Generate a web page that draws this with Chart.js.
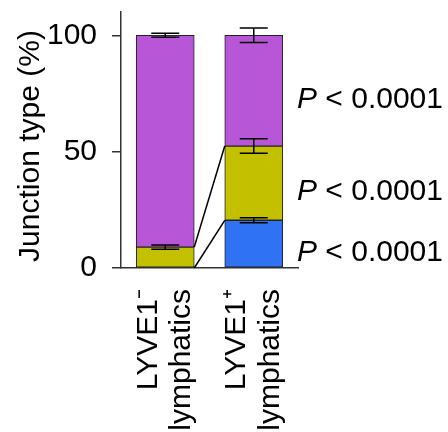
<!DOCTYPE html>
<html>
<head>
<meta charset="utf-8">
<script src="https://cdn.jsdelivr.net/npm/chart.js@4.4.0/dist/chart.umd.min.js"></script>
<style>
  html, body { margin: 0; padding: 0; background: #fff; }
  #wrap { width: 448px; height: 432px; }
</style>
</head>
<body>
<div id="wrap"><canvas id="chart"></canvas></div>
<script>
// Junction type per lymphatic population (%)
const categories = [['LYVE1\u207B', 'lymphatics'], ['LYVE1\u207A', 'lymphatics']];
const blueValues = [0, 20.5];
const yellowValues = [9.0, 31.9];
const purpleValues = [91.0, 47.6];
const blueErrors = [0, 1.1];
const yellowErrors = [0.9, 3.1];
const purpleErrors = [0.9, 3.1];
const yTicks = [0, 50, 100];
const pLabels = ['0.0001', '0.0001', '0.0001']; // blue, yellow, purple
const yTitle = 'Junction type (%)';

const FONT = 'Liberation Sans, Arial, Helvetica, sans-serif';
const series = [blueValues, yellowValues, purpleValues];
const errors = [blueErrors, yellowErrors, purpleErrors];

const overlay = {
    id: 'overlay',
    afterDatasetsDraw(chart) {
        const ctx = chart.ctx;
        const y = chart.scales.y;
        ctx.save();
        ctx.strokeStyle = '#000';
        ctx.lineWidth = 1.5;

        // lines joining the segment tops of the two bars
        [0, 1].forEach(d => {
            const bars = chart.getDatasetMeta(d).data;
            ctx.beginPath();
            ctx.moveTo(bars[0].x + bars[0].width / 2, bars[0].y);
            ctx.lineTo(bars[1].x - bars[1].width / 2, bars[1].y);
            ctx.stroke();
        });

        // error bars at the top of every segment
        errors.forEach((errs, d) => {
            const bars = chart.getDatasetMeta(d).data;
            errs.forEach((e, i) => {
                if (!e) return;
                let top = 0;
                for (let k = 0; k <= d; k++) top += series[k][i];
                const lo = y.getPixelForValue(top - e);
                const hi = y.getPixelForValue(top + e);
                const x = bars[i].x;
                ctx.beginPath();
                ctx.moveTo(x, lo); ctx.lineTo(x, hi);
                ctx.moveTo(x - 14, lo); ctx.lineTo(x + 14, lo);
                ctx.moveTo(x - 14, hi); ctx.lineTo(x + 14, hi);
                ctx.stroke();
            });
        });

        // P values beside the second bar
        ctx.fillStyle = '#000';
        ctx.textBaseline = 'alphabetic';
        const left = chart.chartArea.right - 1;
        pLabels.forEach((p, d) => {
            const bar = chart.getDatasetMeta(d).data[1];
            const base = (bar.y + bar.base) / 2 + 17;
            ctx.font = 'italic 30px ' + FONT;
            ctx.fillText('P', left, base);
            const w = ctx.measureText('P').width;
            ctx.font = '30px ' + FONT;
            ctx.fillText(' < ' + p, left + w, base);
        });

        // y axis title, a little below the axis centre as in the figure
        ctx.translate(31, (chart.chartArea.top + chart.chartArea.bottom) / 2 + 6);
        ctx.rotate(-Math.PI / 2);
        ctx.textAlign = 'center';
        ctx.textBaseline = 'middle';
        ctx.font = '30px ' + FONT;
        ctx.fillText(yTitle, 0, 0);
        ctx.restore();
    }
};

const colors = ['#2F72F4', '#C3C000', '#B757D7'];

new Chart(document.getElementById('chart'), {
    type: 'bar',
    data: {
        labels: categories,
        datasets: series.map((vals, d) => ({
            data: vals,
            backgroundColor: colors[d],
            borderColor: '#222',
            borderWidth: 1,
            borderSkipped: false,
            barThickness: 58,
            stack: 'junction'
        }))
    },
    options: {
        responsive: true,
        maintainAspectRatio: false,
        animation: false,
        layout: { padding: { top: 12, right: 150, left: 0, bottom: 0 } },
        plugins: {
            legend: { display: false },
            tooltip: { enabled: false }
        },
        scales: {
            x: {
                stacked: true,
                afterFit: scale => {
                    scale.height = 164;
                    scale.paddingLeft = 0;
                    scale.paddingRight = 0;
                },
                grid: { display: false, drawTicks: false },
                border: { display: true, color: '#333', width: 1.5 },
                ticks: {
                    color: '#000',
                    font: { family: FONT, size: 30, lineHeight: 1.13 },
                    minRotation: 90,
                    maxRotation: 90,
                    autoSkip: false,
                    labelOffset: -17,
                    padding: 21
                }
            },
            y: {
                stacked: true,
                min: 0,
                max: 110,
                afterFit: scale => {
                    scale.width = 121;
                    scale.paddingTop = 0;
                    scale.paddingBottom = 0;
                },
                afterBuildTicks: scale => { scale.ticks = yTicks.map(v => ({ value: v })); },
                grid: { drawOnChartArea: false, drawTicks: true, tickLength: 9, color: '#333', lineWidth: 1.5 },
                border: { display: true, color: '#333', width: 1.5 },
                ticks: {
                    color: '#000',
                    font: { family: FONT, size: 30 },
                    padding: 15
                }
            }
        }
    },
    plugins: [overlay]
});
</script>
</body>
</html>
